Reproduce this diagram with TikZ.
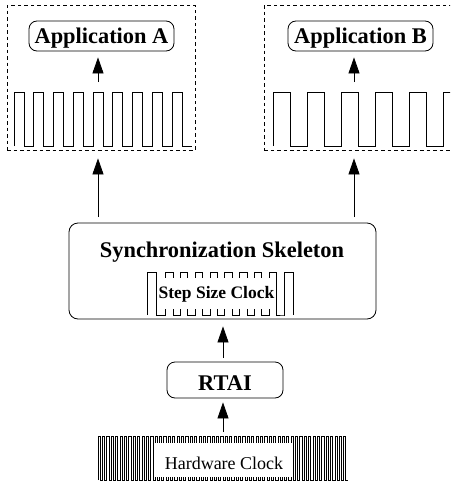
\documentclass[tikz,border=0pt]{standalone}
\usepackage{fontspec}
\setmainfont{Liberation Serif}
\usetikzlibrary{arrows.meta}
\begin{document}
\begin{tikzpicture}[x=1pt,y=-1pt,line width=0.8pt,
  arr/.style={-{Triangle[length=16pt,width=11pt]},line width=0.8pt},
  frame/.style={draw,dash pattern=on 3.5pt off 3pt,line width=0.8pt,inner sep=0pt},
  wave/.style={line width=0.8pt},
  fastwave/.style={line width=0.65pt},
  bigtxt/.style={font=\fontsize{22.4}{26}\selectfont\bfseries},
  appbox/.style={draw,rounded corners=8pt,bigtxt,inner xsep=0pt,inner ysep=0pt,
    text height=22pt,text depth=8pt,minimum width=145pt,anchor=base},
  mask/.style={fill=white,inner ysep=0pt,anchor=base}]
\useasboundingbox (0,0) rectangle (450,490);
\clip (0,0) rectangle (450,490);

% application frames
\node[frame,minimum width=188pt,minimum height=145pt] (boxA) at (101,77.5) {};
\node[frame,minimum width=220pt,minimum height=145pt] (boxB) at (374,77.5) {};

% application clocks
\draw[wave] (14,146) \foreach \i in {1,...,9}{ -- ++(0,-54) -- ++(10,0) -- ++(0,54) -- ++(9.75,0) };
\draw[wave] (273,146) \foreach \i in {1,...,6}{ -- ++(0,-54) -- ++(17,0) -- ++(0,54) -- ++(17,0) };
\coordinate (waveA) at (98,92);
\coordinate (waveB) at (354,92);

\node[appbox] (appA) at (101.5,43) {Application A};
\node[appbox] (appB) at (360.5,43) {Application B};

\draw[arr,shorten <=10pt,shorten >=6pt] (waveA) -- (waveA |- appA.south);
\draw[arr,shorten <=10pt,shorten >=6pt] (waveB) -- (waveB |- appB.south);

% synchronization skeleton
\node[draw,rounded corners=9pt,minimum width=307pt,minimum height=96pt,inner sep=0pt] (skel) at (222.5,271) {};
\node[bigtxt,anchor=base] (skeltitle) at (222,257) {Synchronization Skeleton};

\draw[wave] (147,315) -- ++(0,-43) -- ++(9.5,0) -- ++(0,43) -- (165.5,315)
  \foreach \i in {1,...,8}{ -- ++(0,-43) -- ++(7.4,0) -- ++(0,43) -- ++(7.4,0) }
  -- (284,315) -- ++(0,-43) -- ++(9.3,0) -- ++(0,43);
\node[mask,inner xsep=1pt,text height=20pt,text depth=10.5pt,
  font=\fontsize{17.5}{21}\selectfont\bfseries] (step) at (216.5,298) {Step Size Clock};

\coordinate (skelA) at (98,223);
\coordinate (skelB) at (354,223);
\draw[arr,shorten <=6pt,shorten >=8pt] (skelA) -- (skelA |- boxA.south);
\draw[arr,shorten <=6pt,shorten >=8pt] (skelB) -- (skelB |- boxB.south);

% RTAI
\node[draw,rounded corners=8pt,bigtxt,inner xsep=0pt,inner ysep=0pt,
  text height=28pt,text depth=8pt,minimum width=116pt,anchor=base] (rtai) at (225,390) {RTAI};
\coordinate (rtaiTop) at (223,362);
\draw[arr,shorten <=4pt,shorten >=7pt] (rtaiTop) -- (rtaiTop |- skel.south);

% hardware clock
\draw[fastwave] (98,480) \foreach \i in {1,...,57}{ -- ++(0,-44) -- ++(2.2,0) -- ++(0,44) -- ++(2.186,0) };
\node[mask,inner xsep=10pt,text height=26.5pt,text depth=7.5pt,
  font=\fontsize{18}{22}\selectfont] (hw) at (224,469.5) {Hardware Clock};
\coordinate (hwTop) at (223,436);
\draw[arr,shorten <=4pt,shorten >=4pt] (hwTop) -- (hwTop |- rtai.south);
\end{tikzpicture}
\end{document}
